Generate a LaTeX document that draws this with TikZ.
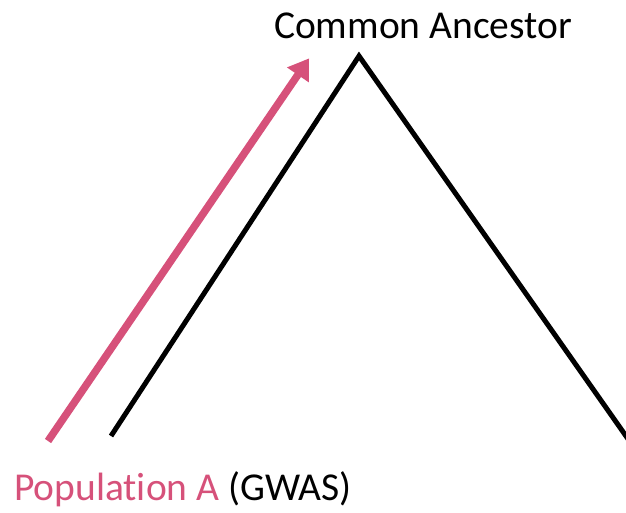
\documentclass[tikz,border=0pt]{standalone}
\usepackage{fontspec}
\setmainfont[Ligatures={NoCommon}]{Carlito}
\usetikzlibrary{arrows.meta}
\definecolor{popA}{HTML}{D6517A}
\tikzset{
  branch/.style={line width=5pt, black},
  lineage/.style={line width=7.5pt, popA, -{Triangle[length=20pt,width=25pt]}, shorten >=-2pt},
  lbl/.style={font=\fontsize{39.5}{48}\selectfont, inner sep=0pt, anchor=base}
}
\begin{document}
\begin{tikzpicture}[x=1pt,y=-1pt]
\useasboundingbox (0,0) rectangle (626,512);
\coordinate (apex) at (359,56);
\coordinate (left) at (111,436);
\coordinate (right) at (640,456);
\coordinate (astart) at (48,441);
\coordinate (aend) at (308,60);
\node[lbl] (ca) at (423,38) {Common Ancestor};
\node[lbl, anchor=base west] (pop) at (14,500) {\textcolor{popA}{Populat\kern0pt ion A} (GWAS)};
\begin{scope}
\clip (0,0) rectangle (626,512);
\draw[branch] (left) -- (apex) -- (right);
\end{scope}
\draw[lineage] (astart) -- (aend);
\end{tikzpicture}
\end{document}
